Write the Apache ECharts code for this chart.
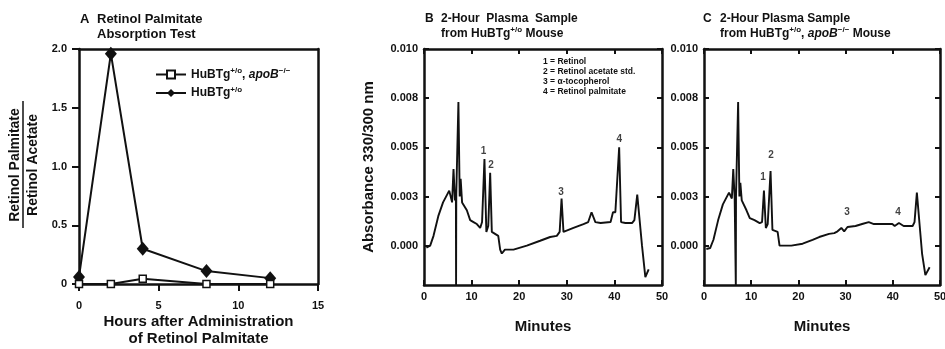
<!DOCTYPE html>
<html>
<head>
<meta charset="utf-8">
<script src="https://cdn.jsdelivr.net/npm/echarts@6/dist/echarts.min.js"></script>
<style>
  html, body { margin: 0; padding: 0; background: #fff; }
  #chart { width: 945px; height: 349px; }
</style>
</head>
<body>
<div id="chart"></div>
<script>
// Panel A - retinol palmitate / retinol acetate ratio over time
const hoursA = [0, 2, 4, 8, 12];
const ratioApoB = [0, 0, 0.045, 0, 0];
const ratioHuBTg = [0.06, 1.96, 0.30, 0.11, 0.05];

// Panel B - chromatogram, HuBTg+/o mouse
const minutesB = [0.5, 1.3, 2.0, 3.0, 4.0, 5.3, 5.6, 5.9, 6.2, 6.5, 6.7, 6.74, 6.78, 7.0, 7.23, 7.5, 7.7, 8.0, 9.0, 9.7,
  10.4, 11.1, 11.8, 12.2, 12.7, 13.1, 13.5, 13.9, 14.25, 14.6, 15.6, 16.0, 16.35, 17.0, 18.8, 21.6, 24.4, 26.5, 27.9, 28.5,
  28.9, 29.3, 31.4, 33.5, 34.5, 35.2, 36.0, 37.1, 39.2, 39.7, 40.2, 41.0, 41.4, 42.3, 43.7, 44.2, 44.8, 45.3, 45.8, 46.5, 47.2];
const absorbB = [-0.0001, 0, 0.0005, 0.0015, 0.0022, 0.0028, 0.0029, 0.0022, 0.0039, 0.0023, 0.0026, -0.002, 0.0026, 0.0027, 0.0073, 0.0025, 0.0034, 0.0022, 0.0018, 0.0013,
  0.0012, 0.0011, 0.0009, 0.0012, 0.0044, 0.0007, 0.001, 0.0037, 0.0007, 0.0007, 0.0005, -0.0002, -0.0004, -0.0002, -0.0002, 0, 0.00025, 0.00044, 0.0005, 0.0007,
  0.0024, 0.0007, 0.0009, 0.0011, 0.0012, 0.0017, 0.0012, 0.00115, 0.0012, 0.0017, 0.0017, 0.005, 0.0012, 0.00115, 0.00115, 0.0013, 0.0026, 0.0013, 0, -0.0016, -0.0012];

// Panel C - chromatogram, HuBTg+/o, apoB-/- mouse
const minutesC = [0.5, 1.3, 2.0, 3.0, 4.0, 5.3, 5.6, 5.9, 6.2, 6.5, 6.7, 6.74, 6.78, 7.0, 7.23, 7.5, 7.7, 8.0, 9.0, 9.7,
  10.7, 11.8, 12.3, 12.7, 13.1, 13.5, 14.1, 14.5, 15.6, 16.0, 16.7, 18.5, 20.9, 23.0, 24.4, 26.5, 27.6, 28.3, 29.1, 29.7,
  30.4, 32.1, 33.5, 34.9, 36.0, 38.5, 39.9, 40.4, 41.3, 42.3, 44.2, 44.6, 45.1, 45.7, 46.2, 46.9, 47.8];
const absorbC = [-0.00017, -0.00012, 0.0003, 0.0013, 0.0021, 0.0027, 0.0028, 0.0024, 0.0039, 0.0024, 0.0025, -0.002, 0.0025, 0.0025, 0.0073, 0.0025, 0.0032, 0.0023, 0.0018, 0.0014,
  0.0013, 0.00115, 0.0012, 0.0028, 0.0009, 0.0011, 0.0038, 0.0008, 0.0007, 0, 0, 0, 0.0001, 0.0003, 0.00044, 0.0006, 0.00064, 0.00073, 0.0009, 0.00073,
  0.00095, 0.001, 0.0011, 0.0012, 0.0011, 0.0011, 0.0011, 0.001, 0.00115, 0.001, 0.001, 0.0012, 0.0027, 0.001, -0.0004, -0.0015, -0.0011];

// peak number annotations [minutes, absorbance]
const peakNames = ['1', '2', '3', '4'];
const peakPosB = [[12.5, 0.0048], [14.1, 0.0041], [28.8, 0.0027], [41.0, 0.0054]];
const peakPosC = [[12.5, 0.0035], [14.2, 0.0046], [30.3, 0.0017], [41.1, 0.0017]];

// tick labels
const absTickValues = [0, 0.0025, 0.005, 0.0075, 0.01];
const absTickLabels = ['0.000', '0.003', '0.005', '0.008', '0.010'];
const ratioTickLabels = ['0', '0.5', '1.0', '1.5', '2.0'];

const ink = '#111';
const font = "'Liberation Sans', Arial, sans-serif";
const labelStyle = { fontFamily: font, fontWeight: 'bold', fontSize: 11, color: ink };
const nameStyle = { fontFamily: font, fontWeight: 'bold', fontSize: 15, color: ink };
const rich = {
  n: { fontFamily: font, fontWeight: 'bold', fontSize: 12, color: ink, lineHeight: 15 },
  i: { fontFamily: font, fontWeight: 'bold', fontStyle: 'italic', fontSize: 12, color: ink, lineHeight: 15 },
  s: { fontFamily: font, fontWeight: 'bold', fontSize: 8, color: ink, verticalAlign: 'top', lineHeight: 9 }
};

const chart = echarts.init(document.getElementById('chart'));

const frameLine = { show: true, onZero: false, lineStyle: { color: ink, width: 2.5 } };
const noSplit = { show: false };

function frameAxis(gridIndex, position, min, max, extra) {
  return Object.assign({
    gridIndex, position, type: 'value', min, max,
    axisLine: frameLine, splitLine: noSplit,
    axisTick: { show: false }, axisLabel: { show: false }
  }, extra || {});
}

const chromTicks = { show: true, inside: true, length: 5, lineStyle: { color: ink, width: 2 } };
const absTicks = Object.assign({ customValues: absTickValues }, chromTicks);

const xAxes = [
  frameAxis(0, 'bottom', 0, 15, {
    interval: 5,
    axisTick: { show: true, length: 7, lineStyle: { color: ink, width: 2 } },
    axisLabel: Object.assign({ margin: 16 }, labelStyle),
    name: 'Hours after Administration\nof Retinol Palmitate',
    nameLocation: 'middle', nameGap: 29, nameMoveOverlap: false,
    nameTextStyle: Object.assign({ lineHeight: 17 }, nameStyle)
  }),
  frameAxis(0, 'top', 0, 15)
];
const yAxes = [
  frameAxis(0, 'left', 0, 2, {
    interval: 0.5,
    axisTick: { show: true, length: 7, lineStyle: { color: ink, width: 2 } },
    axisLabel: Object.assign({ margin: 12, formatter: v => ratioTickLabels[Math.round(v / 0.5)] }, labelStyle)
  }),
  frameAxis(0, 'right', 0, 2)
];

[1, 2].forEach(g => {
  xAxes.push(frameAxis(g, 'bottom', 0, 50, {
    interval: 10,
    axisTick: chromTicks,
    axisLabel: Object.assign({ margin: 6, showMaxLabel: true, showMinLabel: true }, labelStyle),
    name: 'Minutes', nameLocation: 'middle', nameGap: 34, nameTextStyle: nameStyle
  }));
  xAxes.push(frameAxis(g, 'top', 0, 50, { interval: 10, axisTick: chromTicks }));
  yAxes.push(frameAxis(g, 'left', -0.002, 0.01, {
    axisTick: absTicks,
    axisLabel: Object.assign({
      margin: 6, customValues: absTickValues,
      formatter: v => absTickLabels[absTickValues.indexOf(v)]
    }, labelStyle),
    name: g === 1 ? 'Absorbance 330/300 nm' : '',
    nameLocation: 'middle', nameGap: 48, nameTextStyle: nameStyle
  }));
  yAxes.push(frameAxis(g, 'right', -0.002, 0.01, { axisTick: absTicks }));
});

function pairs(xs, ys) { return xs.map((x, i) => [x, ys[i]]); }

function traceSeries(axisIdx, xs, ys) {
  return {
    type: 'line', xAxisIndex: axisIdx, yAxisIndex: axisIdx,
    data: pairs(xs, ys), symbol: 'none',
    lineStyle: { color: ink, width: 1.9 }, animation: false
  };
}

function peakSeries(axisIdx, positions) {
  return {
    type: 'scatter', xAxisIndex: axisIdx, yAxisIndex: axisIdx,
    symbolSize: 1, itemStyle: { color: 'transparent' },
    data: positions.map((p, i) => ({ name: peakNames[i], value: p })),
    label: { show: true, position: 'inside', formatter: '{b}', fontFamily: font, fontWeight: 'bold', fontSize: 10, color: ink },
    silent: true, animation: false
  };
}

const legendNames = {
  apoB: '{n|HuBTg}{s|+/o}{n|, }{i|apoB}{s|−/−}',
  hubtg: '{n|HuBTg}{s|+/o}'
};

const titleText = (left, top, text, size) => ({
  left, top, padding: 0, text,
  textStyle: {
    fontFamily: font, fontWeight: 'bold', fontSize: size || 12, color: ink, lineHeight: 15,
    rich: Object.assign({}, rich, size ? { n: Object.assign({}, rich.n, { fontSize: size }) } : {})
  }
});

chart.setOption({
  backgroundColor: '#fff',
  animation: false,
  title: [
    titleText(80, 12, 'A', 13),
    titleText(97, 12, 'Retinol Palmitate\nAbsorption Test', 13),
    titleText(425, 11, 'B'),
    titleText(441, 11, '{n|2-Hour  Plasma  Sample}\n{n|from HuBTg}{s|+/o}{n| Mouse}'),
    titleText(703, 11, 'C'),
    titleText(720, 11, '{n|2-Hour Plasma Sample}\n{n|from HuBTg}{s|+/o}{n|, }{i|apoB}{s|−/−}{n| Mouse}')
  ],
  grid: [
    { left: 79, top: 49, width: 239, height: 235, outerBoundsMode: 'none' },
    { left: 424, top: 49, width: 238, height: 236, outerBoundsMode: 'none' },
    { left: 704, top: 49, width: 236, height: 236, outerBoundsMode: 'none' }
  ],
  xAxis: xAxes,
  yAxis: yAxes,
  legend: {
    data: ['apoB', 'hubtg'],
    orient: 'vertical', left: 150, top: 62,
    itemWidth: 30, itemHeight: 10, itemGap: 5,
    formatter: name => legendNames[name],
    textStyle: { rich }
  },
  graphic: [
    {
      type: 'text', x: 15, y: 165, rotation: Math.PI / 2,
      style: { text: 'Retinol Palmitate', fill: ink, font: "bold 14px 'Liberation Sans', Arial", textAlign: 'center', textVerticalAlign: 'middle' }
    },
    {
      type: 'line', shape: { x1: 23, y1: 101, x2: 23, y2: 228 },
      style: { stroke: ink, lineWidth: 1.5 }
    },
    {
      type: 'text', x: 33, y: 165, rotation: Math.PI / 2,
      style: { text: 'Retinol Acetate', fill: ink, font: "bold 14px 'Liberation Sans', Arial", textAlign: 'center', textVerticalAlign: 'middle' }
    },
    {
      type: 'text', x: 543, y: 57,
      style: {
        text: '1 = Retinol\n2 = Retinol acetate std.\n3 = α-tocopherol\n4 = Retinol palmitate',
        fill: ink, font: "bold 8.5px 'Liberation Sans', Arial", lineHeight: 10
      }
    }
  ],
  series: [
    {
      name: 'apoB', type: 'line', xAxisIndex: 0, yAxisIndex: 0,
      data: pairs(hoursA, ratioApoB),
      symbol: 'rect', symbolSize: 7,
      itemStyle: { color: '#fff', borderColor: ink, borderWidth: 1.5 },
      lineStyle: { color: ink, width: 2 }, z: 4
    },
    {
      name: 'hubtg', type: 'line', xAxisIndex: 0, yAxisIndex: 0,
      data: pairs(hoursA, ratioHuBTg),
      symbol: 'diamond', symbolSize: [12, 14],
      itemStyle: { color: ink },
      lineStyle: { color: ink, width: 2 }, z: 3
    },
    traceSeries(2, minutesB, absorbB),
    peakSeries(2, peakPosB),
    traceSeries(4, minutesC, absorbC),
    peakSeries(4, peakPosC)
  ]
});
</script>
</body>
</html>
